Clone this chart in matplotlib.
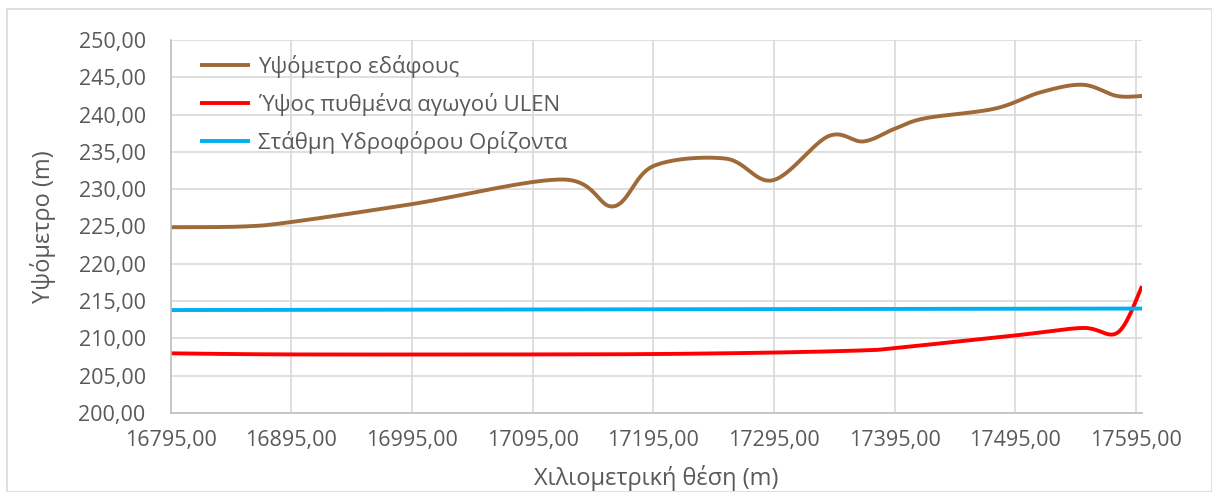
import matplotlib.pyplot as plt
import numpy as np
from matplotlib.patches import Rectangle

# Chainage (m) and elevations (m)
ground_x = [16795, 16855, 16895, 16995, 17120, 17162, 17195, 17255, 17294,
            17340, 17369, 17395, 17420, 17478, 17516, 17551, 17579, 17600]
ground_y = [224.9, 225.0, 225.6, 228.0, 231.3, 227.7, 233.1, 234.1, 231.2,
            237.1, 236.4, 238.1, 239.5, 240.8, 243.0, 244.0, 242.5, 242.5]

pipe_x = [16795, 16895, 17095, 17195, 17295, 17370, 17395, 17495, 17551,
          17580, 17600]
pipe_y = [208.0, 207.85, 207.85, 207.9, 208.1, 208.4, 208.7, 210.4, 211.4,
          210.8, 217.0]

water_x = [16795, 17600]
water_y = [213.8, 214.0]

labels = ["Υψόμετρο εδάφους", "Ύψος πυθμένα αγωγού ULEN",
          "Στάθμη Υδροφόρου Ορίζοντα"]
colours = ["#9E6A38", "#FF0000", "#00B0F0"]


def smooth(xs, ys, n=30):
    # bezier smoothing through every point (same as a "smoothed line" chart)
    p = np.column_stack([xs, ys]).astype(float)
    p = np.vstack([p[0], p, p[-1]])
    out = []
    for i in range(1, len(p) - 2):
        p0, p3 = p[i], p[i + 1]
        p1 = p0 + (p[i + 1] - p[i - 1]) / 6
        p2 = p3 - (p[i + 2] - p[i]) / 6
        t = np.linspace(0, 1, n)[:, None]
        seg = ((1 - t) ** 3 * p0 + 3 * (1 - t) ** 2 * t * p1
               + 3 * (1 - t) * t ** 2 * p2 + t ** 3 * p3)
        out.append(seg if i == 1 else seg[1:])
    out = np.vstack(out)
    return out[:, 0], out[:, 1]


plt.rcParams['font.family'] = ['Open Sans', 'DejaVu Sans']
text_col = "#595959"

fig = plt.figure(figsize=(12.12, 4.92), dpi=100)
ax = fig.add_axes([0.1408, 0.1606, 0.8015, 0.7581])

series = [(ground_x, ground_y), (pipe_x, pipe_y), (water_x, water_y)]
for (xs, ys), lab, col in zip(series, labels, colours):
    sx, sy = smooth(xs, ys)
    ax.plot(sx, sy, color=col, lw=2.8, label=lab, solid_capstyle='butt')

ax.set_xlim(16795, 17600)
ax.set_ylim(200, 250)
xt = np.arange(16795, 17596, 100)
yt = np.arange(200, 251, 5)
ax.set_xticks(xt)
ax.set_yticks(yt)
ax.set_xticklabels([f"{v:.2f}".replace(".", ",") for v in xt])
ax.set_yticklabels([f"{v:.2f}".replace(".", ",") for v in yt])
ax.tick_params(length=0, labelsize=15.5, labelcolor=text_col, pad=12)
ax.tick_params(axis='y', pad=18)
ax.grid(True, color="#D9D9D9", lw=1.2)
ax.set_axisbelow(True)
for s in ["top", "right"]:
    ax.spines[s].set_visible(False)
for s in ["left", "bottom"]:
    ax.spines[s].set_color("#BFBFBF")
    ax.spines[s].set_linewidth(1.2)

ax.set_xlabel("Χιλιομετρική θέση (m)", fontsize=17, color=text_col, labelpad=10)
ax.set_ylabel("Υψόμετρο (m)", fontsize=17, color=text_col, labelpad=16)

leg = ax.legend(loc="upper left", bbox_to_anchor=(0.030, 0.96), frameon=False,
                fontsize=16, handlelength=2.25, handletextpad=0.36,
                labelspacing=0.68, borderaxespad=0, borderpad=0)
for t in leg.get_texts():
    t.set_color(text_col)

# chart border
fig.patches.append(Rectangle((7 / 1212, 0), 1 - 7 / 1212, 1 - 9 / 492,
                             transform=fig.transFigure, fill=False,
                             edgecolor="#D9D9D9", lw=1.2))

fig.savefig("out.png", dpi=100)
